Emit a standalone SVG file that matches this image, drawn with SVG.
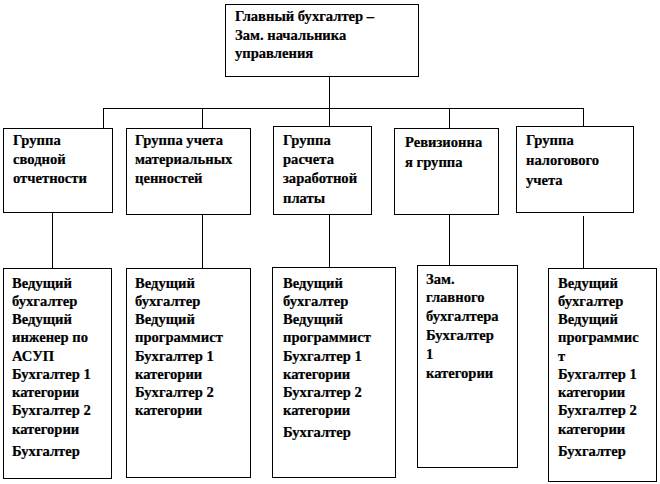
<svg xmlns="http://www.w3.org/2000/svg" width="660" height="484" viewBox="0 0 660 484" font-family="'Liberation Serif', 'Times New Roman', serif">
<style>
rect{fill:#fff;stroke:#000;stroke-width:1}
line{stroke:#000;stroke-width:1}
text{font-family:'Liberation Serif','Times New Roman',serif;font-weight:bold;font-size:14.6px;fill:#000;stroke:#000;stroke-width:0.2}
</style>
<rect x="0" y="0" width="660" height="484" style="stroke:none"/>
<g id="connectors">
<line x1="329.5" y1="76" x2="329.5" y2="126"/>
<line x1="103" y1="108.5" x2="583.5" y2="108.5"/>
<line x1="103.5" y1="108" x2="103.5" y2="128"/>
<line x1="202.5" y1="108" x2="202.5" y2="128"/>
<line x1="449.5" y1="108" x2="449.5" y2="128"/>
<line x1="583.5" y1="108" x2="583.5" y2="126"/>
<line x1="52.5" y1="212" x2="52.5" y2="268"/>
<line x1="202.5" y1="214" x2="202.5" y2="268"/>
<line x1="329.5" y1="214" x2="329.5" y2="267"/>
<line x1="449.5" y1="214" x2="449.5" y2="265"/>
<line x1="583.5" y1="216" x2="583.5" y2="268"/>
</g>
<g id="chief">
<rect x="225.5" y="4.5" width="193" height="72"/>
<text x="235" y="21">Главный бухгалтер –</text>
<text x="235" y="40">Зам. начальника</text>
<text x="235" y="58">управления</text>
</g>
<g id="g1">
<rect x="3.5" y="128.5" width="109" height="84"/>
<text x="13" y="145">Группа</text>
<text x="13" y="164">сводной</text>
<text x="13" y="183">отчетности</text>
</g>
<g id="g2">
<rect x="126.5" y="128.5" width="124" height="86"/>
<text x="135" y="145">Группа учета</text>
<text x="135" y="164">материальных</text>
<text x="135" y="183">ценностей</text>
</g>
<g id="g3">
<rect x="273.5" y="126.5" width="98" height="88"/>
<text x="283" y="145">Группа</text>
<text x="283" y="164">расчета</text>
<text x="283" y="183">заработной</text>
<text x="283" y="203">платы</text>
</g>
<g id="g4">
<rect x="394.5" y="128.5" width="104" height="86"/>
<text x="405" y="147">Ревизионна</text>
<text x="405" y="167">я группа</text>
</g>
<g id="g5">
<rect x="516.5" y="126.5" width="117" height="86"/>
<text x="526" y="145">Группа</text>
<text x="526" y="165">налогового</text>
<text x="526" y="185">учета</text>
</g>
<g id="s1">
<rect x="3.5" y="268.5" width="108" height="210"/>
<text x="12" y="288">Ведущий</text>
<text x="12" y="306">бухгалтер</text>
<text x="12" y="324">Ведущий</text>
<text x="12" y="342">инженер по</text>
<text x="12" y="361">АСУП</text>
<text x="12" y="379">Бухгалтер 1</text>
<text x="12" y="397">категории</text>
<text x="12" y="415">Бухгалтер 2</text>
<text x="12" y="434">категории</text>
<text x="12" y="456">Бухгалтер</text>
</g>
<g id="s2">
<rect x="126.5" y="268.5" width="124" height="209"/>
<text x="135" y="288">Ведущий</text>
<text x="135" y="306">бухгалтер</text>
<text x="135" y="324">Ведущий</text>
<text x="135" y="342">программист</text>
<text x="135" y="361">Бухгалтер 1</text>
<text x="135" y="379">категории</text>
<text x="135" y="397">Бухгалтер 2</text>
<text x="135" y="415">категории</text>
</g>
<g id="s3">
<rect x="272.5" y="267.5" width="123" height="210"/>
<text x="283" y="288">Ведущий</text>
<text x="283" y="306">бухгалтер</text>
<text x="283" y="324">Ведущий</text>
<text x="283" y="342">программист</text>
<text x="283" y="361">Бухгалтер 1</text>
<text x="283" y="379">категории</text>
<text x="283" y="397">Бухгалтер 2</text>
<text x="283" y="415">категории</text>
<text x="283" y="437">Бухгалтер</text>
</g>
<g id="s4">
<rect x="417.5" y="265.5" width="100" height="202"/>
<text x="426" y="284">Зам.</text>
<text x="426" y="302">главного</text>
<text x="426" y="321">бухгалтера</text>
<text x="426" y="340">Бухгалтер</text>
<text x="426" y="359">1</text>
<text x="426" y="378">категории</text>
</g>
<g id="s5">
<rect x="548.5" y="268.5" width="108" height="213"/>
<text x="558" y="288">Ведущий</text>
<text x="558" y="306">бухгалтер</text>
<text x="558" y="324">Ведущий</text>
<text x="558" y="342">программис</text>
<text x="558" y="361">т</text>
<text x="558" y="379">Бухгалтер 1</text>
<text x="558" y="397">категории</text>
<text x="558" y="415">Бухгалтер 2</text>
<text x="558" y="434">категории</text>
<text x="558" y="456">Бухгалтер</text>
</g>
</svg>
